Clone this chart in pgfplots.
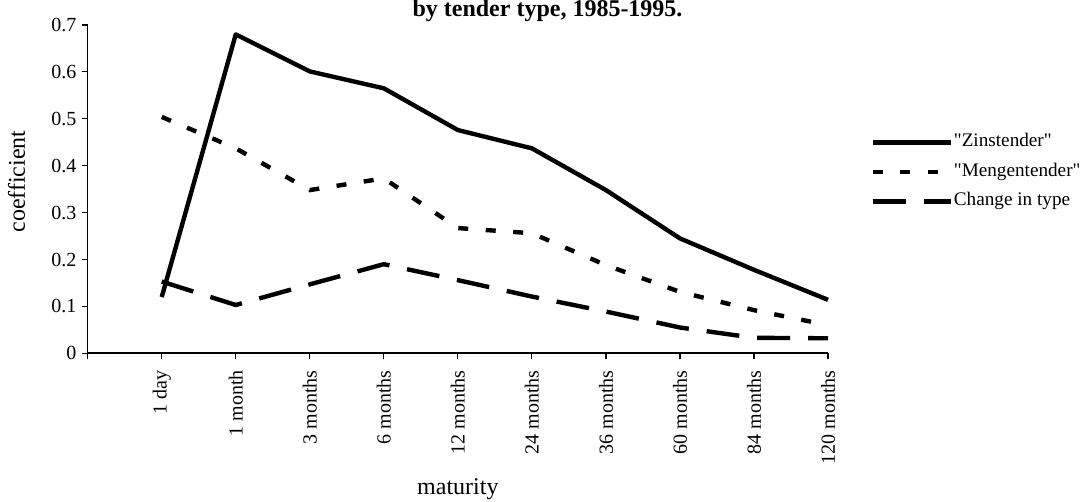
\documentclass[border=0pt]{standalone}
\usepackage{pgfplots}
\pgfplotsset{compat=1.18}
\usepackage{fontspec}
\setmainfont{Liberation Serif}[Ligatures=TeXOff]
\begin{document}
\begin{tikzpicture}
\useasboundingbox (-43.85pt,-74.35pt) rectangle (496.65pt,176.65pt);
\begin{axis}[
  at={(0pt,0pt)}, anchor=south west,
  scale only axis, width=370.15pt, height=164.15pt,
  xmin=0, xmax=10, ymin=0, ymax=0.7,
  clip=false,
  axis x line*=bottom, axis y line*=left,
  axis line style={black, line width=0.8pt},
  tick align=outside, major tick length=3pt,
  tick style={black, line width=0.6pt},
  xtick={0,1,2,3,4,5,6,7,8,9,10},
  xticklabels={{},1 day,1 month,3 months,6 months,12 months,24 months,36 months,60 months,84 months,120 months},
  ytick={0,0.1,0.2,0.3,0.4,0.5,0.6,0.7},
  yticklabels={0,0.1,0.2,0.3,0.4,0.5,0.6,0.7},
  ticklabel style={font=\fontsize{10}{12}\selectfont, inner sep=0pt},
  x tick label style={rotate=90, anchor=east},
  xticklabel shift=5.3pt,
  yticklabel shift=2.5pt,
  xlabel={maturity},
  xlabel style={at={(axis description cs:0.5,-0.4316)}, anchor=base, inner sep=0pt, font=\fontsize{12}{14}\selectfont},
  ylabel={coefficient},
  ylabel style={at={(axis description cs:-0.0847,0.5233)}, anchor=base, inner sep=0pt, font=\fontsize{12}{14}\selectfont},
  legend style={at={(axis description cs:1.0569,0.5523)}, anchor=west, draw=none, fill=none, inner sep=0pt,
    font=\fontsize{9.6}{11.5}\selectfont, row sep=4.25pt,
    nodes={inner sep=0.5pt, text height=0.7em, text depth=0.25em}},
  legend cell align=left,
  legend image code/.code={\draw[#1] (0pt,0pt) -- (39pt,0pt);},
]
\addplot[black, line width=2.2pt, line join=round] coordinates {(1,0.12)(2,0.68)(3,0.601)(4,0.565)(5,0.476)(6,0.437)(7,0.348)(8,0.245)(9,0.178)(10,0.114)};
\addlegendentry{"Zinstender"}
\addplot[black, line width=2.2pt, dash pattern=on 5pt off 8.75pt] coordinates {(1,0.504)(2,0.437)(3,0.348)(4,0.373)(5,0.267)(6,0.256)(7,0.188)(8,0.131)(9,0.092)(10,0.06)};
\addlegendentry{"Mengentender"}
\addplot[black, line width=2.2pt, dash pattern=on 16.5pt off 9pt] coordinates {(1,0.153)(2,0.103)(3,0.147)(4,0.19)(5,0.156)(6,0.121)(7,0.089)(8,0.055)(9,0.033)(10,0.032)};
\addlegendentry{Change in type}
\end{axis}
\node[font=\bfseries\fontsize{12}{14}\selectfont, anchor=base, inner sep=0pt] at (229.9pt,168.2pt) {by tender type, 1985-1995.};
\end{tikzpicture}
\end{document}
